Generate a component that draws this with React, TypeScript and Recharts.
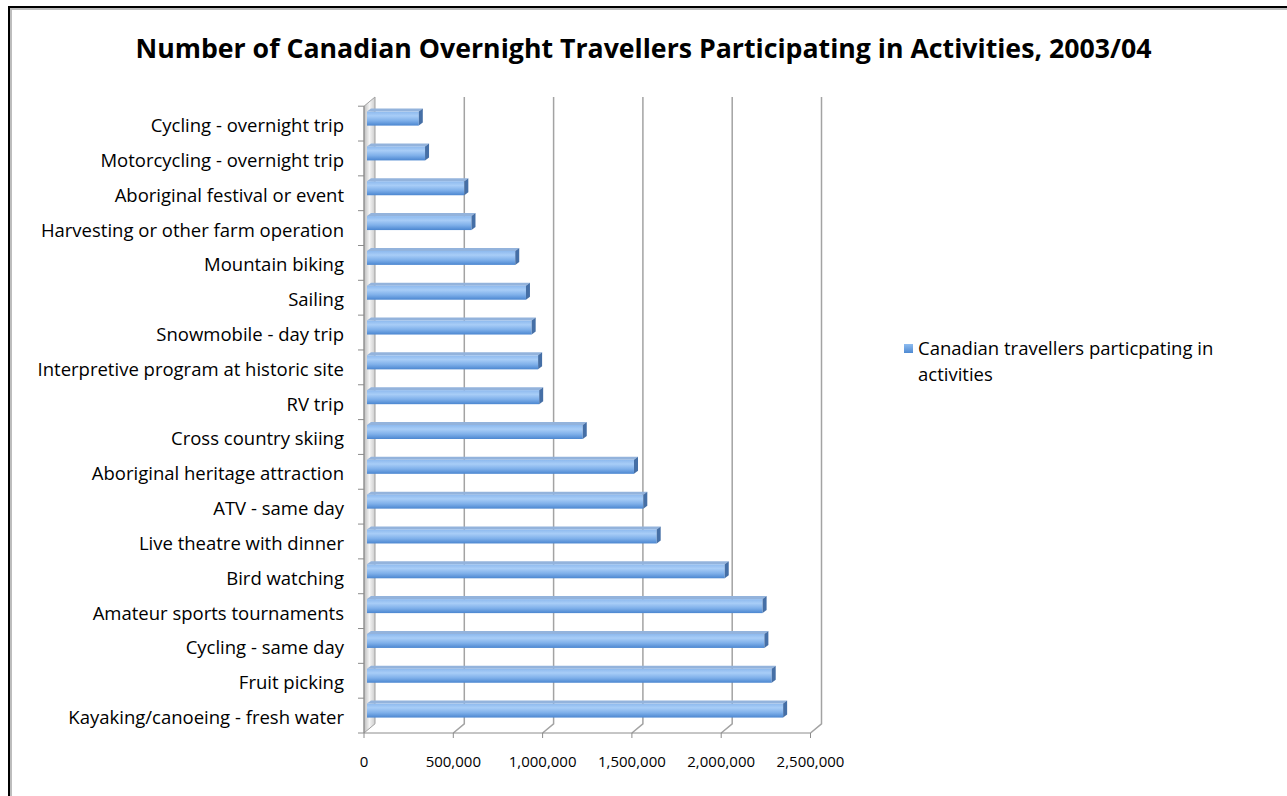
import React from "react";
import { BarChart, Bar, XAxis, YAxis, CartesianGrid, Legend } from "recharts";

// categories top to bottom
const activities = [
  "Cycling - overnight trip",
  "Motorcycling - overnight trip",
  "Aboriginal festival or event",
  "Harvesting or other farm operation",
  "Mountain biking",
  "Sailing",
  "Snowmobile - day trip",
  "Interpretive program at historic site",
  "RV trip",
  "Cross country skiing",
  "Aboriginal heritage attraction",
  "ATV - same day",
  "Live theatre with dinner",
  "Bird watching",
  "Amateur sports tournaments",
  "Cycling - same day",
  "Fruit picking",
  "Kayaking/canoeing - fresh water",
];

const participants = [
  290000, 325000, 545000, 585000, 830000, 890000, 922000, 958000, 964000,
  1208000, 1495000, 1547000, 1622000, 2003000, 2215000, 2225000, 2266000,
  2330000,
];

const xTicks = [0, 500000, 1000000, 1500000, 2000000, 2500000];
const seriesName = "Canadian travellers particpating in activities";
const title =
  "Number of Canadian Overnight Travellers Participating in Activities, 2003/04";

const data = activities.map((activity, i) => ({
  activity,
  value: participants[i],
}));

const W = 1287;
const H = 796;
const PLOT_LEFT = 367;
const PLOT_RIGHT = 813.5;
const PLOT_TOP = 101.6;
const PLOT_BOTTOM = 728.4;
const BAND = (PLOT_BOTTOM - PLOT_TOP) / activities.length;
// 3d offsets of back wall and front plane relative to the bars
const BACK = { dx: 8, dy: -4.6 };
const FRONT = { dx: -3, dy: 4.6 };
const FONT = "'Open Sans', Lato, sans-serif";
const AXIS = "#8c8c8c";

const fmt = (v: number) => v.toLocaleString("en-US");

function Bar3D(props: any) {
  const { x, y, width, height } = props;
  if (!width || width <= 0) return null;
  const d = 4;
  const e = 3;
  return (
    <g>
      <polygon
        points={`${x},${y} ${x + width},${y} ${x + width + d},${y - e} ${x + d},${y - e}`}
        fill="#93b3dc"
      />
      <rect x={x} y={y} width={width} height={height} fill="url(#barFront)" />
      <polygon
        points={`${x + width},${y} ${x + width + d},${y - e} ${x + width + d},${y + height - e} ${x + width},${y + height}`}
        fill="#456fa6"
      />
    </g>
  );
}

function gridLine(props: any) {
  const { x1, y1, y2, key } = props;
  const bx = x1 + BACK.dx;
  const fx = x1 + FRONT.dx;
  if (Math.abs(x1 - PLOT_LEFT) < 0.5) {
    return (
      <polygon
        key={key}
        points={`${fx},${y1 + FRONT.dy} ${bx},${y1 + BACK.dy} ${bx},${y2 + BACK.dy} ${fx},${y2 + FRONT.dy}`}
        fill="url(#wall)"
        stroke="#a0a0a0"
      />
    );
  }
  return (
    <path
      key={key}
      d={`M${bx},${y1 + BACK.dy} L${bx},${y2 + BACK.dy} L${fx},${y2 + FRONT.dy}`}
      stroke="#a3a3a3"
      strokeWidth={1.5}
      fill="none"
    />
  );
}

function CategoryTick(props: any) {
  const { y, payload, index } = props;
  const fy = y + FRONT.dy;
  const ax = PLOT_LEFT + FRONT.dx;
  return (
    <g>
      <line x1={ax - 6} x2={ax} y1={fy - BAND / 2} y2={fy - BAND / 2} stroke={AXIS} />
      {index === activities.length - 1 && (
        <line x1={ax - 6} x2={ax} y1={fy + BAND / 2} y2={fy + BAND / 2} stroke={AXIS} />
      )}
      <text
        x={344}
        y={fy + 2}
        dy="0.35em"
        textAnchor="end"
        fontFamily={FONT}
        fontSize={18.5}
        fill="#000"
      >
        {payload.value}
      </text>
    </g>
  );
}

function ValueTick(props: any) {
  const { x, payload } = props;
  const fx = x + FRONT.dx;
  const fy = PLOT_BOTTOM + FRONT.dy;
  return (
    <g>
      <line x1={fx} x2={fx} y1={fy} y2={fy + 5} stroke={AXIS} />
      <text
        x={fx}
        y={767}
        textAnchor="middle"
        fontFamily={FONT}
        fontSize={15}
        fill="#000"
      >
        {fmt(payload.value)}
      </text>
    </g>
  );
}

function LegendBox(props: any) {
  const item = props.payload && props.payload[0];
  return (
    <div style={{ display: "flex", alignItems: "flex-start", fontFamily: FONT, textAlign: "left" }}>
      <div
        style={{
          width: 9,
          height: 9,
          marginTop: 9,
          marginRight: 5,
          flex: "none",
          background: "linear-gradient(#8ebcf0, #4f8ad2)",
        }}
      />
      <div style={{ width: 320, fontSize: 18.5, lineHeight: "26px", color: "#000" }}>
        {item ? item.value : seriesName}
      </div>
    </div>
  );
}

export default function App() {
  return (
    <div style={{ position: "relative", width: W, height: H, background: "#fff" }}>
      <style>{"body{margin:0;overflow:hidden}"}</style>
      <div
        style={{
          position: "absolute",
          left: 8,
          top: 6,
          width: W,
          height: H,
          borderLeft: "2px solid #000",
          borderTop: "2px solid #000",
        }}
      />
      <div
        style={{
          position: "absolute",
          left: 10,
          top: 8,
          width: W,
          height: H,
          borderLeft: "2px solid #bdbdbd",
          borderTop: "2px solid #bdbdbd",
        }}
      />
      <svg width={0} height={0} style={{ position: "absolute" }}>
        <defs>
          <linearGradient id="barFront" x1="0" y1="0" x2="0" y2="1">
            <stop offset="0%" stopColor="#8db9ee" />
            <stop offset="30%" stopColor="#a8cdf7" />
            <stop offset="65%" stopColor="#7fb0ea" />
            <stop offset="100%" stopColor="#4b86d0" />
          </linearGradient>
          <linearGradient id="wall" x1="0" y1="0" x2="1" y2="0">
            <stop offset="0%" stopColor="#bdbdbd" />
            <stop offset="50%" stopColor="#f4f4f4" />
            <stop offset="100%" stopColor="#cccccc" />
          </linearGradient>
        </defs>
      </svg>
      <div
        style={{
          position: "absolute",
          left: 0,
          top: 29,
          width: W,
          textAlign: "center",
          fontFamily: FONT,
          fontWeight: 700,
          fontSize: 26.7,
          color: "#000",
        }}
      >
        {title}
      </div>
      <div style={{ position: "absolute", left: 0, top: 0 }}>
        <BarChart
          width={W}
          height={H}
          data={data}
          layout="vertical"
          margin={{ top: PLOT_TOP, right: W - PLOT_RIGHT, bottom: 27.6, left: 12 }}
          barSize={14}
        >
          <CartesianGrid horizontal={false} vertical={gridLine} />
          <XAxis
            type="number"
            domain={[0, 2500000]}
            ticks={xTicks}
            height={40}
            interval={0}
            tick={<ValueTick />}
            tickLine={false}
            axisLine={{ stroke: AXIS, transform: `translate(${FRONT.dx},${FRONT.dy})` }}
          />
          <YAxis
            type="category"
            dataKey="activity"
            width={355}
            interval={0}
            tick={<CategoryTick />}
            tickLine={false}
            axisLine={{ stroke: AXIS, transform: `translate(${FRONT.dx},${FRONT.dy})` }}
          />
          <Legend
            layout="horizontal"
            align="center"
            verticalAlign="middle"
            wrapperStyle={{ position: "absolute", left: 904, top: 335, width: 340 }}
            content={<LegendBox />}
          />
          <Bar
            dataKey="value"
            name={seriesName}
            shape={<Bar3D />}
            isAnimationActive={false}
          />
        </BarChart>
      </div>
    </div>
  );
}
